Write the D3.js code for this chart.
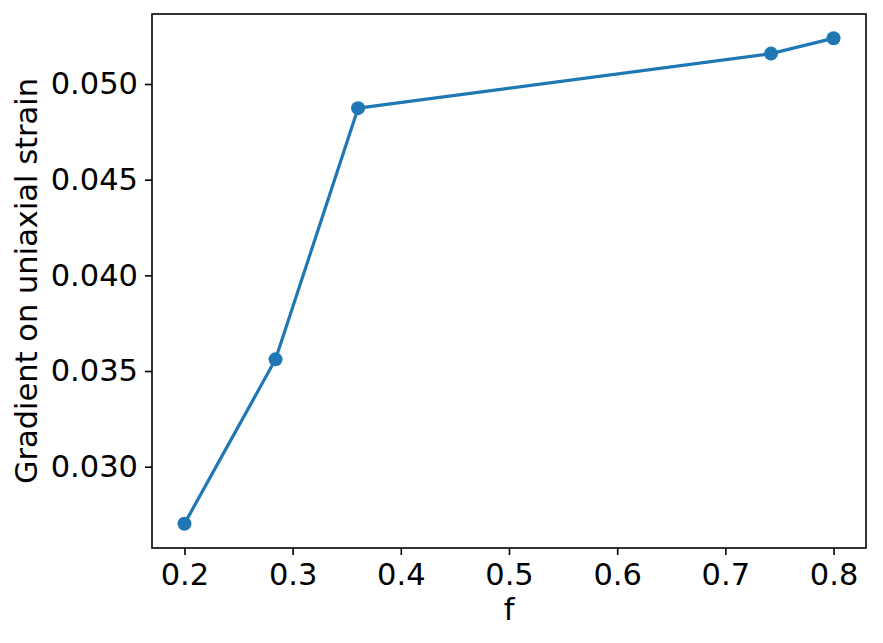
<!DOCTYPE html>
<html>
<head>
<meta charset="utf-8">
<script src="https://cdn.jsdelivr.net/npm/d3@7"></script>
<style>
  html, body { margin: 0; padding: 0; background: #fff; }
  svg { display: block; }
  text { font-family: "DejaVu Sans", sans-serif; }
</style>
</head>
<body>
<svg id="chart" width="883" height="643"></svg>
<script>
const fValues = [0.2, 0.2842, 0.3605, 0.7422, 0.8];
const gradientValues = [0.02702, 0.03561, 0.04874, 0.05159, 0.05239];
const xTicks = [0.2, 0.3, 0.4, 0.5, 0.6, 0.7, 0.8];
const yTicks = [0.030, 0.035, 0.040, 0.045, 0.050];
const xLabel = "f";
const yLabel = "Gradient on uniaxial strain";

const svg = d3.select("#chart");
const margin = { left: 152, right: 883 - 866, top: 14, bottom: 643 - 548 };
const W = 883, H = 643;
const x = d3.scaleLinear().domain([0.17, 0.83]).range([margin.left, W - margin.right]);
const y = d3.scaleLinear().domain([0.02575, 0.05366]).range([H - margin.bottom, margin.top]);

const color = "#1f77b4";
const data = fValues.map((f, i) => ({ f, g: gradientValues[i] }));
const fs = "30.5px";

svg.append("path")
  .datum(data)
  .attr("fill", "none")
  .attr("stroke", color)
  .attr("stroke-width", 3.2)
  .attr("stroke-linejoin", "round")
  .attr("stroke-linecap", "square")
  .attr("d", d3.line().x(d => x(d.f)).y(d => y(d.g)));

svg.selectAll("circle.pt")
  .data(data)
  .enter().append("circle")
  .attr("class", "pt")
  .attr("cx", d => x(d.f))
  .attr("cy", d => y(d.g))
  .attr("r", 7)
  .attr("fill", color);

const xAxis = d3.axisBottom(x).tickValues(xTicks).tickFormat(d3.format(".1f")).tickSize(7).tickPadding(8);
const yAxis = d3.axisLeft(y).tickValues(yTicks).tickFormat(d3.format(".3f")).tickSize(7).tickPadding(7);

const gx = svg.append("g").attr("transform", `translate(0,${H - margin.bottom})`).call(xAxis);
const gy = svg.append("g").attr("transform", `translate(${margin.left},0)`).call(yAxis);
[gx, gy].forEach(g => {
  g.select(".domain").remove();
  g.selectAll(".tick line").attr("stroke", "#000").attr("stroke-width", 1.6);
  g.selectAll(".tick text").attr("fill", "#000").style("font-size", fs).style("font-family", "DejaVu Sans");
});

svg.append("rect")
  .attr("x", margin.left).attr("y", margin.top)
  .attr("width", W - margin.right - margin.left)
  .attr("height", H - margin.bottom - margin.top)
  .attr("fill", "none").attr("stroke", "#000").attr("stroke-width", 1.6);

svg.append("text")
  .attr("x", (margin.left + W - margin.right) / 2)
  .attr("y", 620)
  .attr("text-anchor", "middle")
  .style("font-size", fs)
  .text(xLabel);

svg.append("text")
  .attr("transform", `translate(37,${(margin.top + H - margin.bottom) / 2}) rotate(-90)`)
  .attr("text-anchor", "middle")
  .style("font-size", fs)
  .text(yLabel);
</script>
</body>
</html>
